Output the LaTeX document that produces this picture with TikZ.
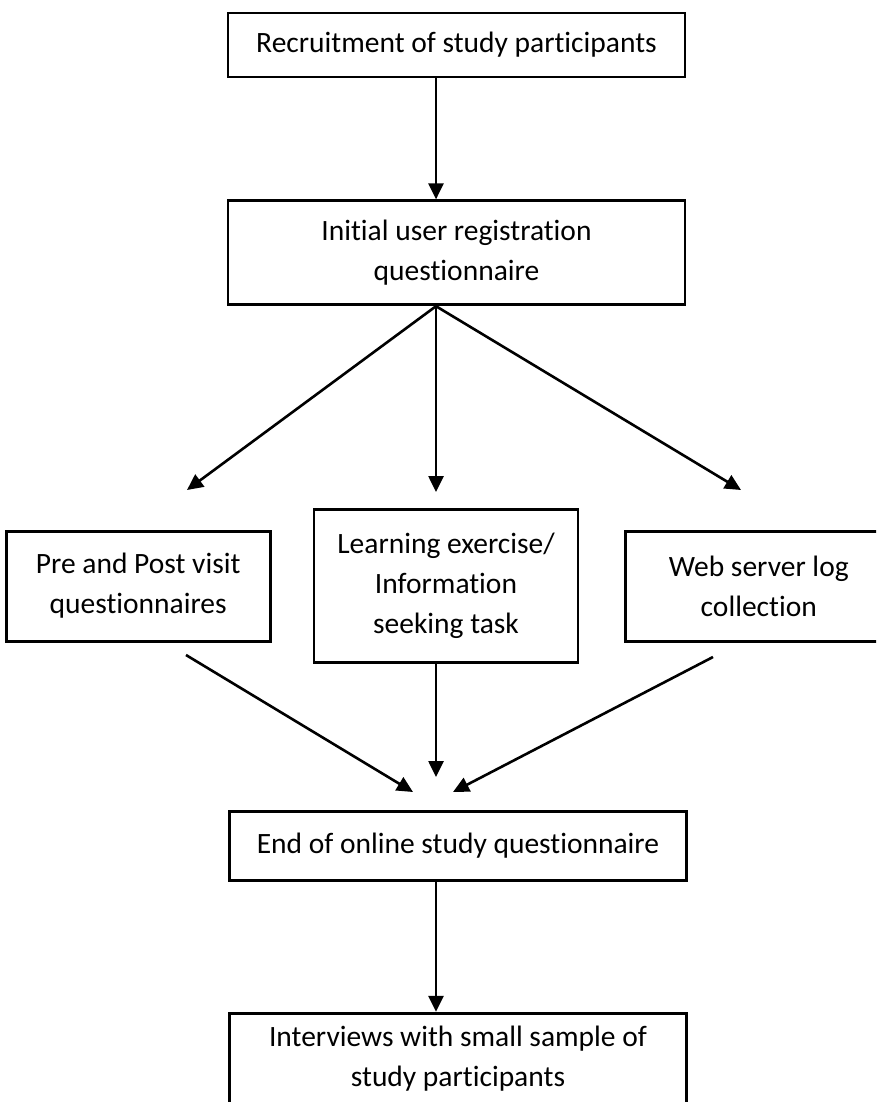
\documentclass[tikz,border=0pt]{standalone}
\usepackage{fontspec}
\setmainfont{Carlito}[Ligatures=NoCommon]
\usetikzlibrary{arrows.meta,positioning}

\begin{document}
\begin{tikzpicture}[
    x=1pt, y=-1pt,
    box/.style={draw, line width=2.8pt, align=center, inner sep=0pt, font=\fontsize{29.5}{40}\selectfont},
    wide/.style={box, minimum width=457pt},
    side/.style={box, minimum width=264pt, minimum height=110pt},
    arrow/.style={-{Triangle[length=16pt,width=15pt]}, line width=2.6pt}
  ]
    \useasboundingbox (0,0) rectangle (876,1102);
    \clip (0,0) rectangle (876,1102);

    \node[wide, minimum height=64pt] (recruit) at (456.5,45) {Recruitment of study participants};
    \node[wide, minimum height=104pt, below=121pt of recruit] (reg) {Initial user registration\\questionnaire};

    \node[box, minimum width=264pt, minimum height=153pt, below=202pt of reg, xshift=-10.5pt] (learn) {Learning exercise/\\Information\\seeking task};
    \node[side, left=41pt of learn] (prepost) {Pre and Post visit\\questionnaires};
    \node[side, minimum width=266pt, right=45pt of learn] (weblog) {Web server log\\collection};

    \node[wide, minimum height=69pt, below=146pt of learn, xshift=12pt] (endq) {End of online study questionnaire};
    % runs off the page, text sits near the top
    \node[wide, minimum height=106pt, text depth=20pt, below=130pt of endq] (interview) {Interviews with small sample of\\study participants};

    % free ends of the fan-out and fan-in arrows
    \coordinate (fork) at ([xshift=-20.5pt]reg.south);
    \coordinate (tipL) at (187,490);
    \coordinate (tipM) at (436,492);
    \coordinate (tipR) at (741,490);
    \coordinate (outL) at (186,655);
    \coordinate (outR) at (713,657);
    \coordinate (inL) at (413,792);
    \coordinate (inM) at (436,777);
    \coordinate (inR) at (453,792);

    \draw[arrow] ([xshift=-20.5pt]recruit.south) -- ([xshift=-20.5pt]reg.north);
    \draw[arrow] (fork) -- (tipL);
    \draw[arrow] (fork) -- (tipM);
    \draw[arrow] (fork) -- (tipR);

    \draw[arrow] (outL) -- (inL);
    \draw[arrow] ([xshift=-10pt]learn.south) -- (inM);
    \draw[arrow] (outR) -- (inR);

    \draw[arrow] ([xshift=-22pt]endq.south) -- ([xshift=-22pt]interview.north);
\end{tikzpicture}
\end{document}
